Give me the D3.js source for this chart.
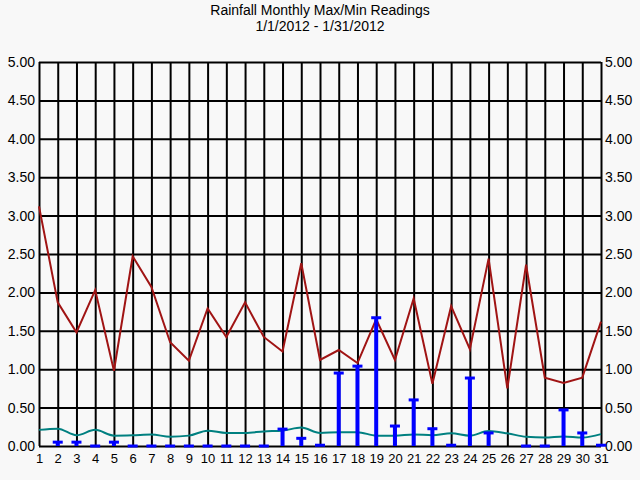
<!DOCTYPE html>
<html>
<head>
<meta charset="utf-8">
<script src="https://cdn.jsdelivr.net/npm/d3@7"></script>
<style>
  html, body { margin: 0; padding: 0; background: #f8f8f8; }
  svg { display: block; }
  text { font-family: "Liberation Sans", Arial, sans-serif; fill: #000; }
</style>
</head>
<body>
<svg id="chart" width="640" height="480"></svg>
<script>
const titleLines = ["Rainfall Monthly Max/Min Readings", "1/1/2012 - 1/31/2012"];
const days = [1,2,3,4,5,6,7,8,9,10,11,12,13,14,15,16,17,18,19,20,21,22,23,24,25,26,27,28,29,30,31];
const maxValues = [3.12,1.87,1.48,2.03,0.98,2.47,2.07,1.35,1.11,1.79,1.42,1.87,1.42,1.23,2.38,1.12,1.25,1.08,1.65,1.12,1.92,0.81,1.82,1.26,2.44,0.75,2.36,0.89,0.82,0.89,1.62];
const minValues = [0.21,0.225,0.14,0.21,0.135,0.14,0.15,0.12,0.135,0.20,0.17,0.17,0.19,0.20,0.24,0.17,0.18,0.18,0.135,0.135,0.15,0.14,0.165,0.135,0.195,0.165,0.12,0.11,0.125,0.11,0.155];
const readings = [null,0.05,0.05,0,0.05,0,0,0,0,0,0,0,0,0.22,0.10,0.01,0.95,1.04,1.67,0.26,0.60,0.225,0.01,0.885,0.17,null,0,0,0.47,0.17,0.01];
const yTicks = [0,0.5,1,1.5,2,2.5,3,3.5,4,4.5,5];

const svg = d3.select("#chart");
const pL = 39, pR = 601, pT = 62, pB = 446;
const x = d3.scaleLinear().domain([1,31]).range([pL, pR]);
const y = d3.scaleLinear().domain([0,5]).range([pB, pT]);
const fmt = d3.format(".2f");
const FONT = "Liberation Sans, Arial, sans-serif";

// title
svg.append("g").selectAll("text").data(titleLines).join("text")
  .attr("x", 320).attr("y", (d,i) => 15 + i*16)
  .attr("text-anchor", "middle").attr("font-size", 14).text(d => d);

// horizontal grid + left labels
const gl = svg.append("g").attr("transform", `translate(${pL},0)`)
  .call(d3.axisLeft(y).tickValues(yTicks).tickFormat(fmt).tickSize(-(pR-pL)).tickPadding(4));
gl.select(".domain").remove();
gl.selectAll("line").attr("stroke", "#000").attr("stroke-width", 2);
gl.selectAll("text").attr("font-size", 14).attr("fill", "#000").attr("font-family", FONT);

// right labels
const gr = svg.append("g").attr("transform", `translate(${pR},0)`)
  .call(d3.axisRight(y).tickValues(yTicks).tickFormat(fmt).tickSize(0).tickPadding(4));
gr.select(".domain").remove();
gr.selectAll("text").attr("font-size", 14).attr("fill", "#000").attr("font-family", FONT);

// vertical grid + bottom labels
const gb = svg.append("g").attr("transform", `translate(0,${pB})`)
  .call(d3.axisBottom(x).tickValues(days).tickFormat(d3.format("d")).tickSize(-(pB-pT)).tickPadding(8));
gb.select(".domain").remove();
gb.selectAll("line").attr("stroke", "#000").attr("stroke-width", 2);
gb.selectAll("text").attr("font-size", 13).attr("fill", "#000").attr("font-family", FONT);

// max line
const maxLine = d3.line().x((d,i) => x(days[i])).y(d => y(d));
svg.append("path").datum(maxValues).attr("d", maxLine)
  .attr("fill", "none").attr("stroke", "#a01414").attr("stroke-width", 2);

// min line (smoothed)
const minLine = d3.line().x((d,i) => x(days[i])).y(d => y(d)).curve(d3.curveMonotoneX);
svg.append("path").datum(minValues).attr("d", minLine)
  .attr("fill", "none").attr("stroke", "#008080").attr("stroke-width", 2);

// readings bars
const rd = days.map((d,i) => ({day: d, v: readings[i]})).filter(d => d.v !== null);
const gbar = svg.append("g");
gbar.selectAll("rect.stem").data(rd).join("rect").attr("class","stem")
  .attr("x", d => x(d.day) - 2).attr("width", 4)
  .attr("y", d => y(d.v)).attr("height", d => y(0) - y(d.v))
  .attr("fill", "#0000ff");
gbar.selectAll("rect.cap").data(rd).join("rect").attr("class","cap")
  .attr("x", d => x(d.day) - 5).attr("width", 10)
  .attr("y", d => y(d.v) - 1.5).attr("height", 3)
  .attr("fill", "#0000ff");
</script>
</body>
</html>
